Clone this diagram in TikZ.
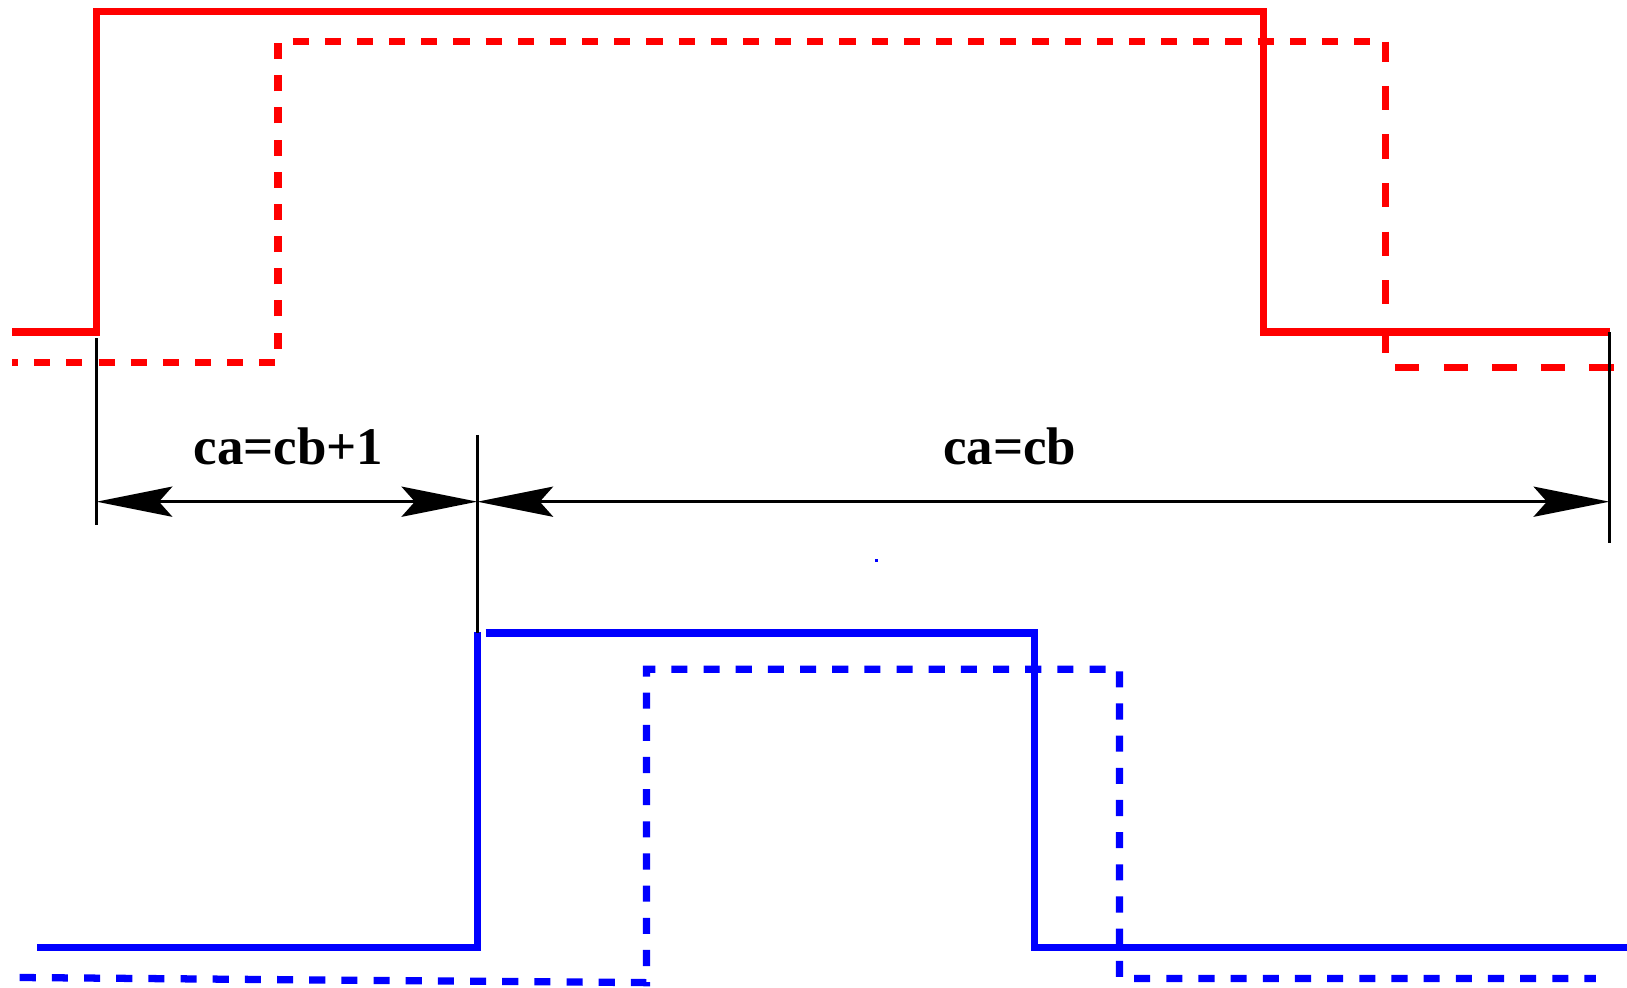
\documentclass[tikz,border=0pt]{standalone}
\usepackage{fontspec}
\setmainfont{Liberation Serif}
\usetikzlibrary{arrows.meta}
\begin{document}
\begin{tikzpicture}[x=0.5pt,y=-0.5pt,
  sig/.style={line width=3.5pt, line join=miter, line cap=butt},
  shortdash/.style={dash pattern=on 7.75pt off 7.75pt},
  longdash/.style={dash pattern=on 11.7pt off 11.7pt},
  tickline/.style={line width=1.7pt, black},
  dimline/.style={line width=1.7pt, black,
    {Stealth[length=36.5pt,width=14.5pt,inset=6.4pt]}-{Stealth[length=36.5pt,width=14.5pt,inset=6.4pt]}},
  lbl/.style={font=\bfseries\fontsize{25.5}{30}\selectfont, anchor=base, inner sep=0pt}]
\useasboundingbox (0,0) rectangle (1568,952);

% red solid signal
\coordinate (rs0) at (12,320);
\coordinate (rs1) at (93,320);
\coordinate (rs2) at (93,11);
\coordinate (rs3) at (1218,11);
\coordinate (rs4) at (1218,320);
\coordinate (rs5) at (1552,320);
\draw[sig, red] (rs0) -- (rs1) -- (rs2) -- (rs3) -- (rs4) -- (rs5);

% red dashed signal
\coordinate (rd0) at (12,349);
\coordinate (rd1) at (268,349);
\coordinate (rd2) at (268,40);
\coordinate (rd3) at (1335,40);
\coordinate (rd4) at (1335,354);
\coordinate (rd5) at (1556,354);
\draw[sig, red, shortdash, dash phase=5pt] (rd0) -- (rd1) -- (rd2) -- (rd3);
\draw[sig, red, longdash, dash phase=2pt] (rd3) -- (rd4) -- (rd5);

% blue solid signal
\coordinate (bs0) at (36,913);
\coordinate (bs1) at (460,913);
\coordinate (bs2) at (460,609);
\coordinate (bs3) at (468,610);
\coordinate (bs4) at (997,610);
\coordinate (bs5) at (997,913);
\coordinate (bs6) at (1568,913);
\draw[sig, blue] (bs0) -- (bs1) -- (bs2);
\draw[sig, blue] (bs3) -- (bs4) -- (bs5) -- (bs6);

% blue dashed signal
\coordinate (bd0) at (12,942);
\coordinate (bd1) at (623,947);
\coordinate (bd2) at (623,645);
\coordinate (bd3) at (1079,645);
\coordinate (bd4) at (1079,943);
\coordinate (bd5) at (1538,943);
\draw[sig, blue, shortdash, dash phase=12pt] (bd0) -- (bd1) -- (bd2) -- (bd3) -- (bd4) -- (bd5);

% ticks
\coordinate (t1a) at (93,326);
\coordinate (t1b) at (93,506);
\coordinate (t2a) at (460,419);
\coordinate (t2b) at (460,610);
\coordinate (t3a) at (1551,320);
\coordinate (t3b) at (1551,523);
\draw[tickline] (t1a) -- (t1b);
\draw[tickline] (t2a) -- (t2b);
\draw[tickline] (t3a) -- (t3b);

% dimension arrows
\coordinate (a1) at (93,483.5);
\coordinate (a2) at (460,483.5);
\coordinate (a3) at (1551,483.5);
\draw[dimline] (a1) -- (a2);
\draw[dimline] (a2) -- (a3);

% labels
\node[lbl] (l1) at (278,448) {ca=cb+1};
\node[lbl] (l2) at (973,448) {ca=cb};

% stray blue dot
\fill[blue] (843.5,538.5) rectangle (846.5,541.5);
\end{tikzpicture}
\end{document}
